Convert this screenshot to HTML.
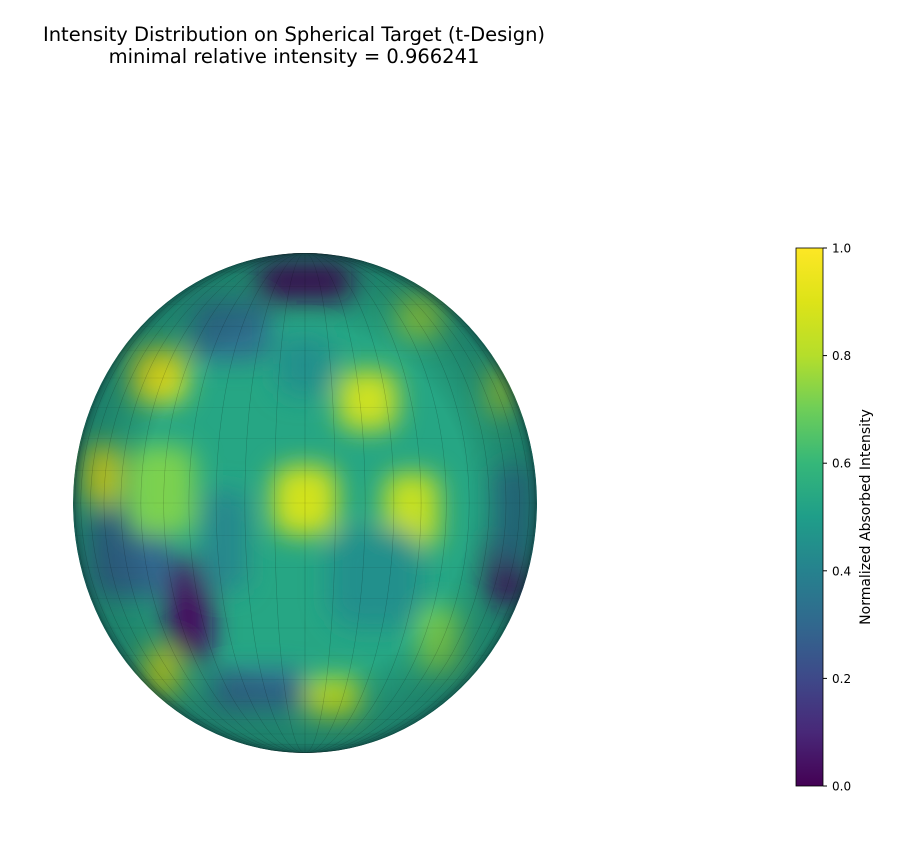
<!DOCTYPE html>
<html><head><meta charset="utf-8"><style>
body{margin:0;background:#fff;width:905px;height:857px;overflow:hidden;font-family:"DejaVu Sans","Liberation Sans",sans-serif}
</style></head><body>
<svg id="chart" width="905" height="857" xmlns="http://www.w3.org/2000/svg" font-family="DejaVu Sans, Liberation Sans, sans-serif">
<defs>
<linearGradient id="viridis" x1="0" y1="1" x2="0" y2="0">
<stop offset="0" stop-color="#440154"/><stop offset="0.1" stop-color="#482878"/><stop offset="0.2" stop-color="#3e4989"/><stop offset="0.3" stop-color="#31688e"/><stop offset="0.4" stop-color="#26828e"/><stop offset="0.5" stop-color="#1f9e89"/><stop offset="0.6" stop-color="#35b779"/><stop offset="0.7" stop-color="#6ece58"/><stop offset="0.8" stop-color="#b5de2b"/><stop offset="0.9" stop-color="#dde318"/><stop offset="1" stop-color="#fde725"/>
</linearGradient>
<clipPath id="sphereClip"><ellipse cx="305" cy="503" rx="232" ry="250"/></clipPath>
<filter id="blur" x="-50%" y="-50%" width="200%" height="200%"><feGaussianBlur stdDeviation="13"/></filter>
<radialGradient id="rim" cx="0.5" cy="0.5" r="0.5">
<stop offset="0.7" stop-color="#000" stop-opacity="0"/><stop offset="0.96" stop-color="#0b2a30" stop-opacity="0.3"/><stop offset="1" stop-color="#0b2a30" stop-opacity="0.6"/>
</radialGradient>
</defs>
<text x="294" y="41" font-size="19.5" text-anchor="middle">Intensity Distribution on Spherical Target (t-Design)</text>
<text x="294" y="63" font-size="19.5" text-anchor="middle">minimal relative intensity = 0.966241</text>
<g id="sphere" clip-path="url(#sphereClip)"></g>
<g id="cbar"></g>
<text transform="translate(870,517) rotate(-90)" font-size="14" text-anchor="middle">Normalized Absorbed Intensity</text>
</svg>
<script>
// heatmap blobs on sphere: normalized screen coords (u,v in [-1,1]), intensity values, sizes
const blobU = [0.0, -0.63, -0.88, 0.0, 0.27, 0.46, -0.5, 0.88, -0.75, -0.2, 0.12, 0.58, -0.32, 0.5, 0.85, -0.62, 0.9, -0.62, 0.0, 0.3, -0.35];
const blobV = [-0.89, -0.51, -0.11, -0.01, -0.41, 0.03, 0.43, 0.27, 0.2, 0.75, 0.78, 0.55, -0.69, -0.75, -0.45, 0.68, 0.05, -0.05, -0.55, 0.3, 0.15];
const blobVal = [0.02, 0.92, 0.92, 0.87, 0.86, 0.84, 0.03, 0.05, 0.3, 0.3, 0.82, 0.72, 0.33, 0.75, 0.78, 0.85, 0.35, 0.72, 0.45, 0.45, 0.42];
const blobRu = [0.2, 0.12, 0.08, 0.14, 0.13, 0.12, 0.1, 0.09, 0.18, 0.2, 0.12, 0.09, 0.17, 0.1, 0.06, 0.08, 0.08, 0.15, 0.12, 0.2, 0.1];
const blobRv = [0.08, 0.11, 0.12, 0.14, 0.12, 0.15, 0.2, 0.14, 0.18, 0.08, 0.08, 0.13, 0.12, 0.09, 0.1, 0.1, 0.2, 0.18, 0.12, 0.2, 0.2];
const baseValue = 0.53;
const cbTicks = [0.0, 0.2, 0.4, 0.6, 0.8, 1.0];
const cbLabels = ["0.0", "0.2", "0.4", "0.6", "0.8", "1.0"];

const NS = "http://www.w3.org/2000/svg";
const cx = 305, cy = 503, rx = 232, ry = 250;
const stops = ["#440154","#482878","#3e4989","#31688e","#26828e","#1f9e89","#35b779","#6ece58","#b5de2b","#dde318","#fde725"];
function hex(h){return [1,3,5].map(i=>parseInt(h.substr(i,2),16));}
function viridis(t){t=Math.max(0,Math.min(1,t))*10;const i=Math.min(9,Math.floor(t)),f=t-i;const a=hex(stops[i]),b=hex(stops[i+1]);return "rgb("+a.map((v,k)=>Math.round(v+(b[k]-v)*f)).join(",")+")";}
const xS = u => cx + u*rx, yS = v => cy + v*ry;

const sg = document.getElementById("sphere");
const base = document.createElementNS(NS,"ellipse");
base.setAttribute("cx",cx);base.setAttribute("cy",cy);base.setAttribute("rx",rx);base.setAttribute("ry",ry);
base.setAttribute("fill",viridis(baseValue));


sg.appendChild(base);
const bg = document.createElementNS(NS,"g");bg.setAttribute("filter","url(#blur)");sg.appendChild(bg);
for(let i=0;i<blobU.length;i++){
  const r=document.createElementNS(NS,"rect");
  const w=blobRu[i]*rx*2,h=blobRv[i]*ry*2;
  r.setAttribute("x",xS(blobU[i])-w/2);r.setAttribute("y",yS(blobV[i])-h/2);
  r.setAttribute("width",w);r.setAttribute("height",h);r.setAttribute("rx",Math.min(w,h)*0.3);
  r.setAttribute("fill",viridis(blobVal[i]));
  
  
  bg.appendChild(r);
}
for(let k=1;k<24;k++){
  const e=document.createElementNS(NS,"ellipse");
  const c=Math.cos(Math.PI*k/24);
  e.setAttribute("cx",cx);e.setAttribute("cy",cy);e.setAttribute("rx",Math.abs(c)*rx+0.1);e.setAttribute("ry",ry);
  e.setAttribute("fill","none");e.setAttribute("stroke","#000");e.setAttribute("stroke-opacity","0.13");e.setAttribute("stroke-width","0.5");
  sg.appendChild(e);
  const y=cy-Math.cos(Math.PI*k/24)*ry;
  const l=document.createElementNS(NS,"line");
  l.setAttribute("x1",cx-rx);l.setAttribute("x2",cx+rx);l.setAttribute("y1",y);l.setAttribute("y2",y);
  l.setAttribute("stroke","#000");l.setAttribute("stroke-opacity","0.13");l.setAttribute("stroke-width","0.5");
  sg.appendChild(l);
}
const rim=document.createElementNS(NS,"ellipse");
rim.setAttribute("cx",cx);rim.setAttribute("cy",cy);rim.setAttribute("rx",rx);rim.setAttribute("ry",ry);rim.setAttribute("fill","url(#rim)");
sg.appendChild(rim);

const cb=document.getElementById("cbar");
const cbX=796,cbW=27,cbTop=248,cbBot=786;
const cbY=t=>cbBot-(cbBot-cbTop)*t;
const rect=document.createElementNS(NS,"rect");
rect.setAttribute("x",cbX);rect.setAttribute("y",cbTop);rect.setAttribute("width",cbW);rect.setAttribute("height",cbBot-cbTop);
rect.setAttribute("fill","url(#viridis)");rect.setAttribute("stroke","#000");rect.setAttribute("stroke-width","0.8");


cb.appendChild(rect);
cbTicks.forEach((t,i)=>{
  const y=cbY(t);
  const l=document.createElementNS(NS,"line");
  l.setAttribute("x1",cbX+cbW);l.setAttribute("x2",cbX+cbW+4);l.setAttribute("y1",y);l.setAttribute("y2",y);l.setAttribute("stroke","#000");
  
  
  cb.appendChild(l);
  const tx=document.createElementNS(NS,"text");
  tx.setAttribute("x",cbX+cbW+9);tx.setAttribute("y",y+4.5);tx.setAttribute("font-size","12");
  tx.textContent=cbLabels[i];
  
  
  cb.appendChild(tx);
});
</script>
</body></html>
